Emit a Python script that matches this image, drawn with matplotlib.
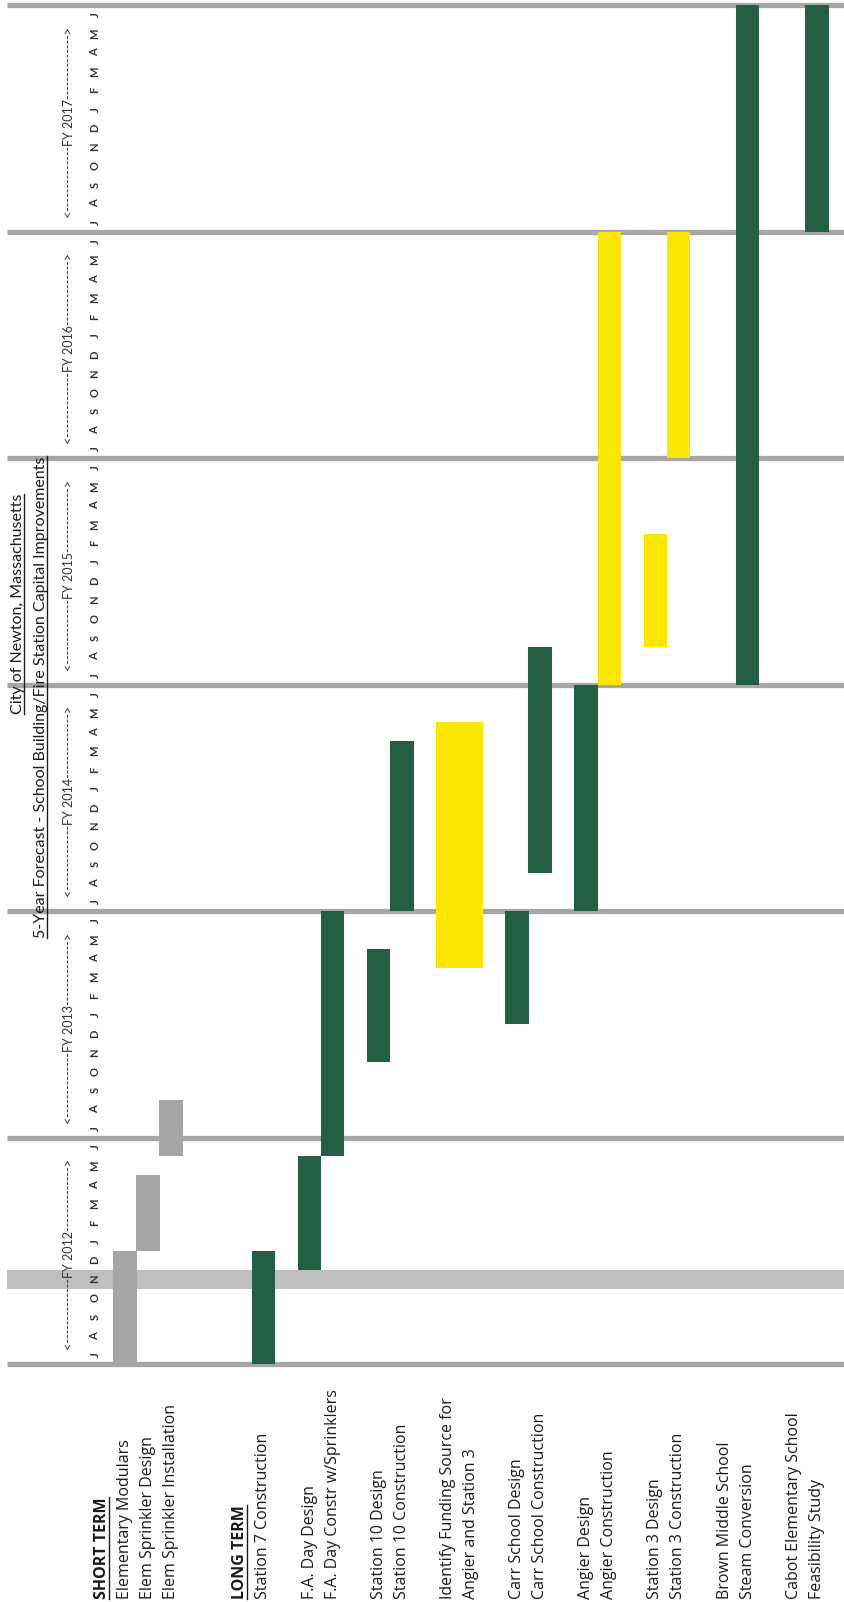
import matplotlib
matplotlib.use("Agg")
import matplotlib.pyplot as plt
from matplotlib.lines import Line2D

plt.rcParams['font.family'] = ['Lato', 'DejaVu Sans']

# label column (blank strings are spacer lines)
label_lines = ["SHORT TERM", "Elementary Modulars", "Elem Sprinkler Design",
               "Elem Sprinkler Installation", "", "",
               "LONG TERM", "Station 7 Construction", "",
               "F.A. Day Design", "F.A. Day Constr w/Sprinklers", "",
               "Station 10 Design", "Station 10 Construction", "",
               "Identify Funding Source for", "Angier and Station 3", "",
               "Carr School Design", "Carr School Construction", "",
               "Angier Design", "Angier Construction", "",
               "Station 3 Design", "Station 3 Construction", "",
               "Brown Middle School", "Steam Conversion", "",
               "Cabot Elementary School", "Feasibility Study"]
header_lines = ["SHORT TERM", "LONG TERM"]

# each task -> label line(s) it sits on, start/end in months from July 2011
task_rows = [["Elementary Modulars"], ["Elem Sprinkler Design"], ["Elem Sprinkler Installation"],
             ["Station 7 Construction"], ["F.A. Day Design"], ["F.A. Day Constr w/Sprinklers"],
             ["Station 10 Design"], ["Station 10 Construction"],
             ["Identify Funding Source for", "Angier and Station 3"],
             ["Carr School Design"], ["Carr School Construction"],
             ["Angier Design"], ["Angier Construction"],
             ["Station 3 Design"], ["Station 3 Construction"],
             ["Steam Conversion"], ["Feasibility Study"]]
task_start = [0, 6, 11, 0, 5, 11, 16, 24, 21, 18, 26, 24, 36, 38, 48, 36, 60]
task_end = [6, 10, 14, 6, 11, 24, 22, 33, 34, 24, 38, 36, 60, 44, 60, 72, 72]
task_group = ["short", "short", "short", "long", "long", "long", "long", "long",
              "pending", "long", "long", "long", "pending", "pending", "pending",
              "long", "long"]

fiscal_years = ["FY 2012", "FY 2013", "FY 2014", "FY 2015", "FY 2016", "FY 2017"]
month_letters = ["J", "A", "S", "O", "N", "D", "J", "F", "M", "A", "M", "J"]
current_month = 4  # Nov 2011 highlight

title1 = "City of Newton, Massachusetts"
title2 = "5-Year Forecast - School Building/Fire Station Capital Improvements"

colors = {"short": "#a6a6a6", "long": "#245e45", "pending": "#fbe600"}

W, H = 845, 1602
fig = plt.figure(figsize=(W / 100, H / 100), dpi=100)
ax = fig.add_axes([0, 0, 1, 1])
ax.axis("off")

# slot spacing ~23.06px, first label at 102px; month = 18.87px, month 0 at 238px from bottom
slot_px, slot0_px = 23.06, 102
month_px, base_px = 18.87, 238
ax.set_xlim(-slot0_px / slot_px, (W - slot0_px) / slot_px)
ax.set_ylim(-base_px / month_px, (H - base_px) / month_px)

n_months = 12 * len(fiscal_years)
x_left = (7 - slot0_px) / slot_px
x_right = ax.get_xlim()[1]

# current month band and fiscal-year lines
ax.fill_between([x_left, x_right], current_month, current_month + 1,
                color="#bfbfbf", lw=0, zorder=1)
ax.hlines(range(0, n_months + 1, 12), x_left, x_right, color="#a6a6a6",
          lw=3.8, zorder=1)

# bars
for rows, s, e, g in zip(task_rows, task_start, task_end, task_group):
    idx = [label_lines.index(r) for r in rows]
    xc = (min(idx) + max(idx)) / 2
    ax.bar(xc, e - s, bottom=s, width=len(idx) + 0.02, color=colors[g],
           lw=0, zorder=2)

# labels at bottom
underline = []
for i, txt in enumerate(label_lines):
    if not txt:
        continue
    bold = txt in header_lines
    t = ax.text(i, -12.45, txt, rotation=90, ha="center", va="bottom",
                fontsize=11.5, fontweight="bold" if bold else "normal",
                family=["Open Sans", "DejaVu Sans"], color="#1a1a1a")
    if bold:
        underline.append(t)

# month letters and fiscal-year spans
x_month = (95 - slot0_px) / slot_px
x_fy = (69 - slot0_px) / slot_px
for y, fy in enumerate(fiscal_years):
    for m, lt in enumerate(month_letters):
        ax.text(x_month, 12 * y + m + 0.5, lt, rotation=90, ha="center",
                va="center", fontsize=8, fontweight="bold", color="#333333")
    ax.text(x_fy, 12 * y + 5.8, "<" + "-" * 14 + fy + "-" * 14 + ">",
            rotation=90, ha="center", va="center", fontsize=9, color="#333333")

# titles
t1 = fig.text(18 / W, 1 - 604 / H, title1, rotation=90, ha="center",
              va="center", fontsize=11.5, color="#1a1a1a")
t2 = fig.text(41 / W, 1 - 697 / H, title2, rotation=90, ha="center",
              va="center", fontsize=11.5, color="#1a1a1a")
underline += [t1, t2]

fig.canvas.draw()
r = fig.canvas.get_renderer()
for t in underline:
    bb = t.get_window_extent(r)
    xu = bb.x1 - 1
    fig.add_artist(Line2D([xu, xu], [bb.y0, bb.y1], transform=None,
                          color="#1a1a1a", lw=1))

fig.savefig("out.png", dpi=100)
